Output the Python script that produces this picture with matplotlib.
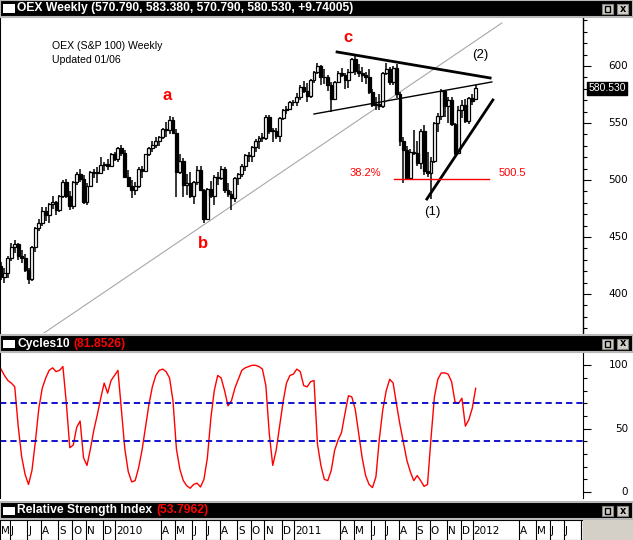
import matplotlib
matplotlib.use('Agg')
import matplotlib.pyplot as plt
import matplotlib.transforms as mtrans
from matplotlib.patches import Rectangle
from matplotlib.ticker import MultipleLocator
import numpy as np
import pandas as pd

W, H = 633, 540

# weekly bars, first week starts Monday 2009-05-11
start_week = '2009-05-11'

opens = [425, 415, 418, 432, 441, 444, 433, 432, 421, 413,
         441, 458, 462, 473, 469, 479, 481, 474, 486, 498,
         486, 477, 498, 505, 501, 481, 495, 507, 506, 506,
         513, 514, 512, 523,
         518, 528, 524, 503, 495, 491, 495, 510, 508, 523,
         528, 531, 534, 538, 545, 544, 553, 541, 507, 517,
         496, 497, 486, 498, 509, 491, 466, 492, 486, 503,
         502, 510, 491, 488, 484, 502, 505, 512, 522, 521,
         529, 534, 537, 537, 555, 543, 543, 539, 554, 561,
         562, 568,
         568, 573, 582, 578, 574, 588, 595, 600, 590, 590,
         583, 571, 586, 594, 592, 588, 595, 606, 596, 594,
         592, 590, 577, 566, 567, 565, 594, 597, 586, 598,
         575, 534, 526, 502, 525, 524, 515, 543, 508, 506,
         517, 550, 556, 578, 565, 570, 549, 524, 561, 566,
         552, 572, 570.79]

highs = [428, 423, 433, 445, 447, 445, 439, 435, 423, 442,
         459, 466, 476, 476, 480, 486, 482, 487, 500, 501,
         490, 499, 507, 510, 504, 497, 508, 510, 511, 520,
         516, 518, 524, 525,
         529, 531, 526, 509, 500, 498, 511, 512, 523, 529,
         534, 538, 539, 546, 551, 556, 555, 545, 523, 519,
         505, 507, 499, 512, 512, 492, 493, 499, 504, 507,
         512, 511, 497, 490, 503, 506, 514, 523, 525, 530,
         536, 539, 541, 557, 557, 546, 546, 555, 562, 565,
         569, 570,
         576, 583, 587, 585, 589, 596, 603, 601, 597, 592,
         586, 587, 596, 598, 594, 597, 607, 609, 602, 599,
         595, 597, 580, 573, 575, 595, 603, 599, 600, 602,
         577, 538, 530, 527, 544, 534, 545, 548, 525, 520,
         551, 559, 580, 579, 573, 573, 550, 565, 570, 571,
         573, 575, 583.38]

lows = [412, 410, 414, 429, 436, 430, 427, 419, 409, 411,
        437, 455, 460, 464, 462, 475, 469, 472, 484, 484,
        474, 475, 496, 498, 479, 478, 494, 502, 497, 505,
        508, 509, 511, 517,
        516, 521, 502, 494, 484, 487, 493, 502, 507, 521,
        525, 528, 530, 536, 538, 540, 540, 485, 505, 485,
        487, 484, 479, 496, 490, 462, 465, 484, 478, 496,
        500, 489, 485, 474, 481, 496, 503, 508, 516, 516,
        525, 527, 533, 535, 540, 533, 536, 533, 553, 558,
        561, 565,
        565, 570, 576, 568, 572, 585, 593, 583, 584, 578,
        560, 570, 585, 590, 580, 581, 594, 592, 590, 586,
        584, 575, 564, 561, 561, 563, 592, 583, 583, 572,
        530, 497, 500, 500, 522, 512, 510, 504, 503, 483,
        515, 542, 553, 555, 550, 547, 522, 523, 554, 550,
        549, 566, 570.79]

closes = [415, 418, 432, 441, 444, 433, 432, 421, 413, 441,
          458, 462, 473, 469, 479, 481, 474, 486, 498, 486,
          477, 498, 505, 501, 481, 495, 507, 506, 506, 513,
          514, 512, 523, 518,
          528, 524, 503, 495, 491, 495, 510, 508, 523, 528,
          531, 534, 538, 545, 544, 553, 541, 507, 517, 496,
          497, 486, 498, 509, 491, 466, 492, 486, 503, 502,
          510, 491, 488, 484, 502, 505, 512, 522, 521, 529,
          534, 537, 537, 555, 543, 543, 539, 554, 561, 562,
          568, 568,
          573, 582, 578, 574, 588, 595, 600, 590, 590, 583,
          571, 586, 594, 592, 588, 595, 606, 596, 594, 592,
          590, 577, 566, 567, 565, 594, 597, 586, 598, 575,
          534, 526, 502, 525, 524, 515, 543, 508, 506, 517,
          550, 556, 578, 565, 570, 549, 524, 561, 566, 552,
          572, 569, 580.53]

cycles = [97, 92, 88, 86, 83, 52, 28, 14, 6, 17,
          40, 66, 82, 90, 96, 98, 95, 96, 99, 70,
          35, 37, 51, 56, 27, 21, 34, 49, 61, 74,
          86, 78, 88, 92, 96, 65, 34, 16, 8, 9,
          19, 33, 51, 69, 83, 92, 96, 97, 95, 90,
          72, 34, 18, 9, 5, 3, 6, 7, 4, 10,
          27, 58, 80, 92, 90, 80, 68, 72, 82, 89,
          96, 98, 99, 100, 100, 99, 97, 84, 46, 21,
          33, 52, 71, 86, 92, 93, 97, 95, 84, 83,
          87, 88, 38, 21, 10, 9, 17, 33, 41, 47,
          62, 76, 75, 65, 46, 27, 13, 6, 3.5, 12,
          42, 65, 80, 89, 86, 69, 53, 39, 25, 16,
          9, 13, 9, 4.5, 6, 42, 75, 89, 94, 94,
          93, 87, 71, 70, 74, 52, 57, 66, 81.85]

# annotation lines (week index, price)
trend_upper = [(97.7, 612.3), (142.2, 589.5)]
trend_mid = [(91.0, 557.9), (142.7, 586.0)]
trend_rise = [(123.8, 483.3), (143.0, 570.2)]
trend_gray = [(12.5, 365.8), (145.6, 637.7)]
fib_level = 500.5

x = np.arange(len(closes))
o = np.array(opens); c = np.array(closes)
hi = np.array(highs); lo = np.array(lows)


def box(x0, y0, x1, y1):
    return [x0 / W, 1 - y1 / H, (x1 - x0) / W, (y1 - y0) / H]


fig = plt.figure(figsize=(W / 100, H / 100), dpi=100)
fig.patch.set_facecolor('white')

XMIN, XMAX = -0.29, 169.2

# ---------- price panel
ax = fig.add_axes(box(0, 18, 583, 333))
ax.set_xlim(XMIN, XMAX)
ax.set_ylim(365.8, 642.1)

ax.vlines(x, lo, hi, color='black', lw=1.1)
up = c >= o
body = np.maximum(np.abs(c - o), 0.6)
ax.bar(x[up], body[up], bottom=np.minimum(o, c)[up], width=0.85,
       facecolor='white', edgecolor='black', lw=0.9, zorder=3)
ax.bar(x[~up], body[~up], bottom=np.minimum(o, c)[~up], width=0.85,
       facecolor='black', edgecolor='black', lw=0.9, zorder=3)

ax.plot(*zip(*trend_gray), color='#a8a8a8', lw=0.8, zorder=1)
ax.plot(*zip(*trend_mid), color='black', lw=1, zorder=4)
ax.plot(*zip(*trend_upper), color='black', lw=2, zorder=4)
ax.plot(*zip(*trend_rise), color='black', lw=2, zorder=4)
ax.plot([114.2, 141.9], [fib_level, fib_level], color='red', lw=1, zorder=4)

ax.text(48.3, 573.7, 'a', color='red', fontsize=12, fontweight='bold',
        ha='center', va='center', family='Liberation Sans')
ax.text(58.7, 444.7, 'b', color='red', fontsize=12, fontweight='bold',
        ha='center', va='center', family='Liberation Sans')
ax.text(100.9, 625.4, 'c', color='red', fontsize=12, fontweight='bold',
        ha='center', va='center', family='Liberation Sans')
ax.text(125.3, 471.9, '(1)', color='black', fontsize=9.5,
        ha='center', va='center', family='Liberation Sans')
ax.text(139.2, 609.6, '(2)', color='black', fontsize=9.5,
        ha='center', va='center', family='Liberation Sans')
ax.text(105.8, 506.1, '38.2%', color='red', fontsize=8,
        ha='center', va='center', family='Liberation Sans')
ax.text(148.8, 506.1, '500.5', color='red', fontsize=8,
        ha='center', va='center', family='Liberation Sans')

fig.text(52 / W, 1 - 46 / H, 'OEX (S&P 100) Weekly', fontsize=7.6,
         va='center', family='Liberation Sans')
fig.text(52 / W, 1 - 60 / H, 'Updated 01/06', fontsize=7.6,
         va='center', family='Liberation Sans')

for sp in ['top', 'bottom']:
    ax.spines[sp].set_visible(False)
ax.spines['left'].set_linewidth(1.5)
ax.spines['right'].set_linewidth(1)
ax.set_xticks([])
ax.yaxis.tick_right()
ax.yaxis.set_major_locator(MultipleLocator(50))
ax.yaxis.set_minor_locator(MultipleLocator(10))
ax.tick_params(axis='y', which='major', length=6, width=0.8, labelright=False)
ax.tick_params(axis='y', which='minor', length=3, width=0.8)

tr = mtrans.blended_transform_factory(fig.transFigure, ax.transData)
for v in [400, 450, 500, 550, 600]:
    ax.text(628 / W, v, str(v), transform=tr, ha='right', va='center',
            fontsize=7.5, family='DejaVu Sans')
ax.text(607 / W, closes[-1], '%.3f' % closes[-1], transform=tr, ha='center',
        va='center', fontsize=7.5, color='white', family='Liberation Sans',
        bbox=dict(boxstyle='square,pad=0.15', fc='black', ec='black'))

# ---------- cycles panel
axc = fig.add_axes(box(0, 353, 583, 498))
axc.set_xlim(XMIN, XMAX)
axc.set_ylim(-4.7, 109.7)
axc.plot(x, cycles, color='red', lw=1)
for lvl in [70, 40]:
    axc.axhline(lvl, color='#0000cc', lw=1.3, dashes=(3.5, 2.2))
for sp in ['top', 'bottom']:
    axc.spines[sp].set_visible(False)
axc.spines['left'].set_linewidth(1.5)
axc.set_xticks([])
axc.yaxis.tick_right()
axc.yaxis.set_major_locator(MultipleLocator(50))
axc.yaxis.set_minor_locator(MultipleLocator(10))
axc.tick_params(axis='y', which='major', length=6, width=0.8, labelright=False)
axc.tick_params(axis='y', which='minor', length=3, width=0.8)
trc = mtrans.blended_transform_factory(fig.transFigure, axc.transData)
for v in [0, 50, 100]:
    axc.text(628 / W, v, str(v), transform=trc, ha='right', va='center',
             fontsize=7.5, family='DejaVu Sans')

# ---------- date strip
axd = fig.add_axes(box(0, 520, 583, 540))
axd.set_xlim(XMIN, XMAX)
axd.set_ylim(0, 1)
axd.set_xticks([]); axd.set_yticks([])
for sp in axd.spines.values():
    sp.set_linewidth(0.8)
dates = pd.date_range(start_week, periods=171, freq='W-MON')
axd.text(XMIN + 0.4, 0.45, 'JFMAMJJASOND'[dates[0].month - 1], ha='left',
         va='center', fontsize=7.5, family='DejaVu Sans')
for i in range(1, len(dates)):
    d = dates[i]
    if d.month == dates[i - 1].month or d.month in (2, 3):
        continue
    pos = i - 0.9 if d.month == 1 else i - 0.4
    axd.axvline(pos, color='black', lw=0.8)
    if i > 167:
        continue
    lab = str(d.year) if d.month == 1 else 'JFMAMJJASOND'[d.month - 1]
    axd.text(pos + 0.3, 0.45, lab, ha='left', va='center', fontsize=7.5,
             family='DejaVu Sans')
fig.add_artist(Rectangle((583 / W, 0), 50 / W, 20 / H, transform=fig.transFigure,
                         facecolor='#d4d0c8', edgecolor='none'))

# ---------- title bars
renderer = fig.canvas.get_renderer()


def title_bar(y0, y1, parts):
    fig.add_artist(Rectangle((0, 1 - y1 / H), 1, (y1 - y0) / H,
                             transform=fig.transFigure, facecolor='black',
                             edgecolor='#b8b8b8', lw=1.5))
    ym = (y0 + y1) / 2
    fig.add_artist(Rectangle((3 / W, 1 - (ym + 4) / H), 12 / W, 8 / H,
                             transform=fig.transFigure, facecolor='white',
                             edgecolor='none'))
    xpos = 17 / W
    for txt, col in parts:
        t = fig.text(xpos, 1 - ym / H, txt, color=col, fontsize=8.7,
                     fontweight='bold', va='center', ha='left',
                     family='Liberation Sans')
        bb = t.get_window_extent(renderer=renderer)
        xpos = bb.x1 / W + 4 / W
    for bx, glyph in [(602, 'sq'), (617, 'x')]:
        fig.add_artist(Rectangle((bx / W, 1 - (ym + 5) / H), 11 / W, 10 / H,
                                 transform=fig.transFigure, facecolor='#d4d0c8',
                                 edgecolor='#808080', lw=0.8))
        if glyph == 'sq':
            fig.add_artist(Rectangle(((bx + 3) / W, 1 - (ym + 3) / H), 5 / W, 6 / H,
                                     transform=fig.transFigure, facecolor='none',
                                     edgecolor='black', lw=1))
        else:
            fig.text((bx + 5.5) / W, 1 - ym / H, 'x', fontsize=7, fontweight='bold',
                     ha='center', va='center')


title_bar(0, 17, [('OEX Weekly (570.790, 583.380, 570.790, 580.530, +9.74005)', 'white')])
title_bar(335, 352, [('Cycles10', 'white'), ('(81.8526)', 'red')])
title_bar(502, 519, [('Relative Strength Index', 'white'), ('(53.7962)', 'red')])

fig.savefig('out.png', dpi=100, facecolor='white')
